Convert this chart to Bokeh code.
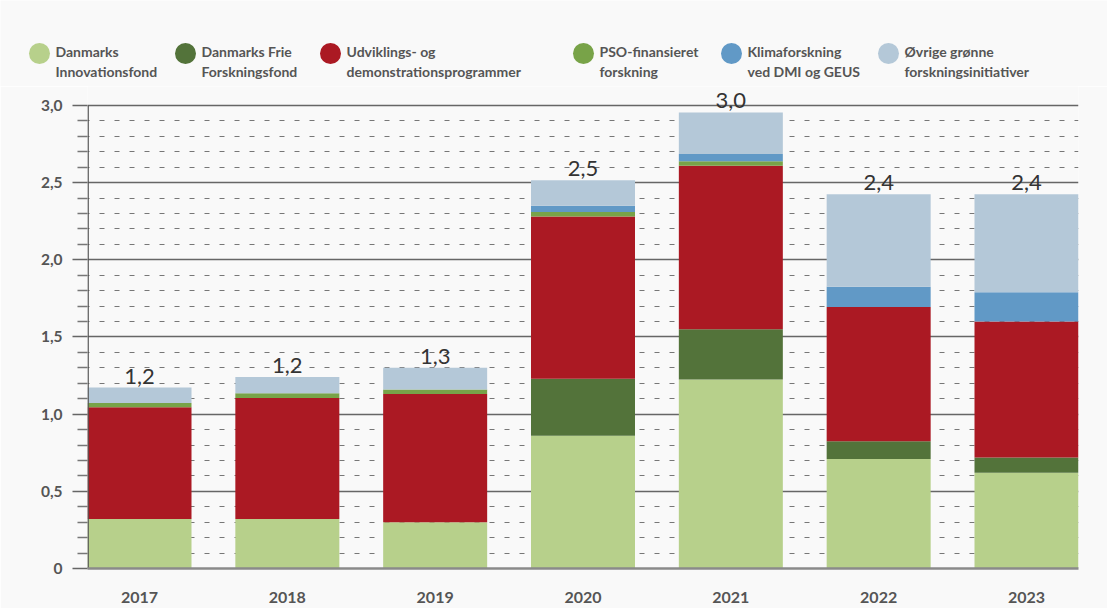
from bokeh.plotting import figure
from bokeh.models import Range1d, FixedTicker, CustomJSTickFormatter, ColumnDataSource
from bokeh.core.properties import value
from bokeh.embed import file_html
from bokeh.resources import INLINE

# ---------------- data ----------------
years = [2017, 2018, 2019, 2020, 2021, 2022, 2023]
series = ["Danmarks Innovationsfond", "Danmarks Frie Forskningsfond",
          "Udviklings- og demonstrationsprogrammer", "PSO-finansieret forskning",
          "Klimaforskning ved DMI og GEUS", "Øvrige grønne forskningsinitiativer"]
legend_labels = ["Danmarks\nInnovationsfond", "Danmarks Frie\nForskningsfond",
                 "Udviklings- og\ndemonstrationsprogrammer", "PSO-finansieret\nforskning",
                 "Klimaforskning\nved DMI og GEUS", "Øvrige grønne\nforskningsinitiativer"]
innovationsfond = [0.32, 0.32, 0.30, 0.86, 1.225, 0.71, 0.62]
frie_forskningsfond = [0.0, 0.0, 0.0, 0.37, 0.325, 0.115, 0.10]
udvikling = [0.725, 0.785, 0.83, 1.05, 1.06, 0.87, 0.88]
pso = [0.027, 0.03, 0.03, 0.03, 0.028, 0.0, 0.0]
klima = [0.0, 0.0, 0.0, 0.04, 0.047, 0.13, 0.19]
oevrige = [0.10, 0.105, 0.14, 0.165, 0.27, 0.60, 0.635]
y_ticks = [0, 0.5, 1.0, 1.5, 2.0, 2.5, 3.0]
y_minor_ticks = [0.1, 0.2, 0.3, 0.4, 0.6, 0.7, 0.8, 0.9, 1.1, 1.2, 1.3, 1.4,
                 1.6, 1.7, 1.8, 1.9, 2.1, 2.2, 2.3, 2.4, 2.6, 2.7, 2.8, 2.9]

# ---------------- style ----------------
colors = ["#b7d08b", "#53733a", "#ab1923", "#78a348", "#6199c6", "#b4c8d8"]
BG = "#f9f9f9"
FONT = "Lato"
TEXT = "#555555"
W = 1107
BAR_W = 0.7035

keys = ["s0", "s1", "s2", "s3", "s4", "s5"]
data = dict(x=years)
for k, v in zip(keys, [innovationsfond, frie_forskningsfond, udvikling, pso, klima, oevrige]):
    data[k] = v
totals = [sum(vals) for vals in zip(innovationsfond, frie_forskningsfond, udvikling, pso, klima, oevrige)]
data["total"] = totals
data["label"] = [("%.1f" % t).replace(".", ",") for t in totals]
src = ColumnDataSource(data)

# ---------------- legend figure ----------------
LH = 86
leg = figure(width=W, height=LH, x_range=Range1d(0, W), y_range=Range1d(LH, 0),
             output_backend="svg", toolbar_location=None,
             min_border=0, min_border_left=0, min_border_right=0,
             min_border_top=0, min_border_bottom=0)
leg.axis.visible = False
leg.grid.visible = False
leg.outline_line_color = None
leg.background_fill_color = BG
leg.border_fill_color = BG
leg_x = [39, 185, 330, 583, 731, 888]
lsrc = ColumnDataSource(dict(
    x=leg_x, y=[53] * 6, c=colors,
    tx=[x + 16 for x in leg_x],
    l1=[l.split("\n")[0] for l in legend_labels],
    l2=[l.split("\n")[1] for l in legend_labels],
    y1=[51] * 6, y2=[71] * 6))
leg.scatter(x="x", y="y", size=21, color="c", line_color=None, source=lsrc)
for col, ycol in (("l1", "y1"), ("l2", "y2")):
    leg.text(x="tx", y=ycol, text=col, source=lsrc, text_font=value(FONT),
             text_font_style="bold", text_font_size="14px", text_color=TEXT,
             text_align="left", text_baseline="middle")

# ---------------- main figure ----------------
x0 = years[0] - BAR_W / 2
x1 = years[-1] + BAR_W / 2
p = figure(width=W, height=522, x_range=Range1d(x0, x1), y_range=Range1d(0, 3.123),
           output_backend="svg", toolbar_location=None,
           min_border_left=87, min_border_right=29, min_border_top=0, min_border_bottom=40)
p.background_fill_color = BG
p.border_fill_color = BG
p.outline_line_color = None

p.vbar_stack(keys, x="x", width=BAR_W, color=colors, line_color=None, source=src)

p.text(x="x", y="total", text="label", source=src, text_font=value(FONT),
       text_font_size="22px", text_color="#333333", text_align="center",
       text_baseline="bottom", y_offset=-4)

# custom y axis line from 0 to top tick
p.segment(x0=x0 + 0.004, y0=0, x1=x0 + 0.004, y1=y_ticks[-1], line_color="#555555", line_width=1.5)

p.xaxis.ticker = FixedTicker(ticks=years)
p.xaxis.major_tick_line_color = None
p.xaxis.minor_tick_line_color = None
p.xaxis.axis_line_color = "#8a8a8a"
p.xaxis.axis_line_width = 2.5
p.xaxis.major_label_standoff = 17
p.xaxis.major_label_text_font = FONT
p.xaxis.major_label_text_font_style = "bold"
p.xaxis.major_label_text_font_size = "16px"
p.xaxis.major_label_text_color = TEXT

p.yaxis.ticker = FixedTicker(ticks=y_ticks, minor_ticks=y_minor_ticks)
p.yaxis.formatter = CustomJSTickFormatter(code="""
    if (tick == 0) return "0";
    return tick.toFixed(1).replace(".", ",");
""")
p.yaxis.axis_line_color = None
p.yaxis.major_tick_out = 15
p.yaxis.major_tick_in = 0
p.yaxis.minor_tick_out = 10
p.yaxis.minor_tick_in = 0
p.yaxis.major_tick_line_color = "#666666"
p.yaxis.major_tick_line_width = 1.5
p.yaxis.minor_tick_line_color = "#777777"
p.yaxis.minor_tick_line_width = 1.5
p.yaxis.major_label_standoff = 10
p.yaxis.major_label_text_font = FONT
p.yaxis.major_label_text_font_style = "bold"
p.yaxis.major_label_text_font_size = "15.5px"
p.yaxis.major_label_text_color = TEXT

p.xgrid.visible = False
p.ygrid.ticker = FixedTicker(ticks=y_ticks, minor_ticks=y_minor_ticks)
p.ygrid.grid_line_color = "#666666"
p.ygrid.grid_line_width = 1.3
p.ygrid.minor_grid_line_color = "#777777"
p.ygrid.minor_grid_line_width = 1
p.ygrid.minor_grid_line_dash = "5 10"
p.ygrid.minor_grid_line_dash_offset = 3

# two separate roots (legend strip above chart), so frames are not aligned
open("out.html", "w").write(file_html([leg, p], INLINE))
